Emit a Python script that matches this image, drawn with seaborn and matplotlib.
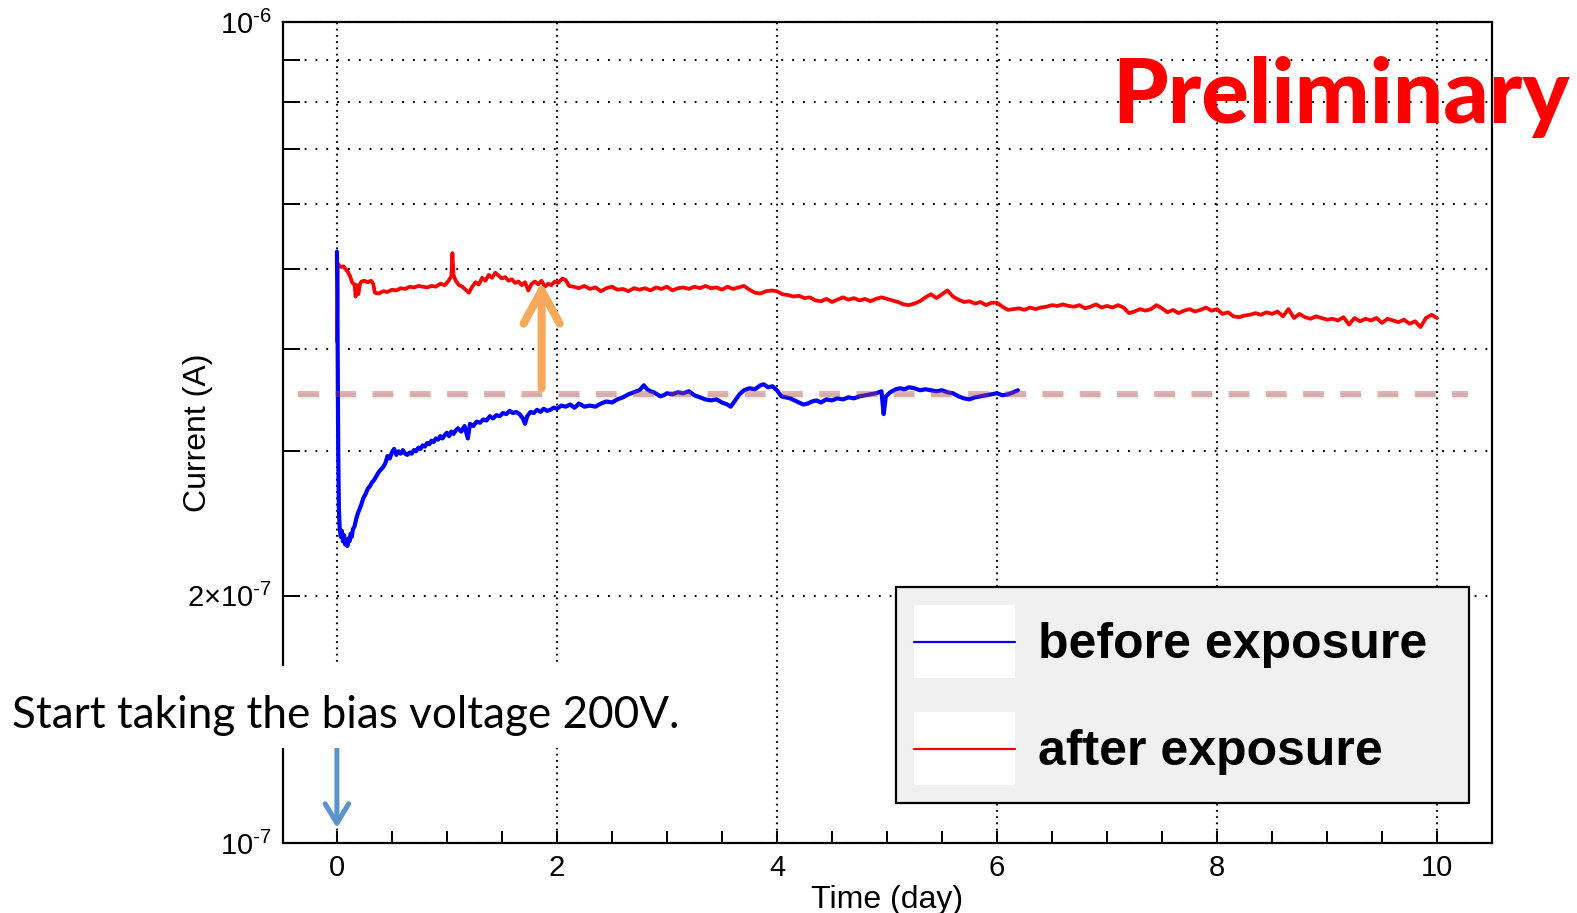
import numpy as np
import pandas as pd
import matplotlib
matplotlib.use("Agg")
import matplotlib.pyplot as plt
import seaborn as sns
from matplotlib import ticker
from matplotlib.lines import Line2D
from matplotlib.patches import Rectangle
from matplotlib.legend_handler import HandlerLine2D
import matplotlib.patheffects as pe

# ---------------- data ----------------
before_day = [0.000, 0.004, 0.008, 0.012, 0.018, 0.025, 0.035, 0.045, 0.055, 0.065,
              0.075, 0.085, 0.095, 0.105, 0.115, 0.125, 0.135, 0.145, 0.160, 0.175,
              0.190, 0.205, 0.220, 0.240, 0.260, 0.280, 0.300, 0.320, 0.340, 0.360,
              0.380, 0.400, 0.420, 0.440, 0.460, 0.480, 0.500, 0.520, 0.540, 0.560,
              0.580, 0.600, 0.620, 0.640, 0.660, 0.680, 0.700, 0.720, 0.740, 0.760,
              0.780, 0.800, 0.820, 0.840, 0.860, 0.880, 0.900, 0.920, 0.940, 0.960,
              0.980, 1.000, 1.020, 1.040, 1.060, 1.080, 1.100, 1.130, 1.160, 1.190,
              1.210, 1.240, 1.270, 1.300, 1.330, 1.360, 1.390, 1.420, 1.450, 1.480,
              1.510, 1.540, 1.570, 1.600, 1.630, 1.660, 1.690, 1.710, 1.730, 1.760,
              1.790, 1.820, 1.850, 1.880, 1.910, 1.940, 1.970, 2.000, 2.040, 2.080,
              2.120, 2.160, 2.200, 2.250, 2.300, 2.350, 2.400, 2.450, 2.500, 2.550,
              2.600, 2.650, 2.700, 2.750, 2.790, 2.820, 2.850, 2.880, 2.910, 2.940,
              2.970, 3.000, 3.050, 3.100, 3.150, 3.200, 3.250, 3.300, 3.350, 3.400,
              3.450, 3.500, 3.550, 3.580, 3.620, 3.660, 3.700, 3.750, 3.800, 3.850,
              3.880, 3.920, 3.960, 4.000, 4.040, 4.080, 4.120, 4.160, 4.200, 4.240,
              4.280, 4.320, 4.360, 4.400, 4.450, 4.500, 4.550, 4.600, 4.650, 4.700,
              4.750, 4.800, 4.850, 4.900, 4.950, 4.970, 4.990, 5.030, 5.080, 5.120,
              5.160, 5.200, 5.250, 5.300, 5.350, 5.400, 5.450, 5.500, 5.550, 5.600,
              5.650, 5.700, 5.750, 5.800, 5.850, 5.900, 5.950, 6.000, 6.050, 6.100,
              6.150, 6.190]
before_nA = [525, 470, 380, 300, 255, 242, 236, 240, 233, 237,
             231, 234, 230, 235, 233, 238, 236, 241, 243, 248,
             252, 255, 258, 263, 266, 270, 272, 275, 277, 280,
             283, 285, 287, 290, 296, 294, 299, 302, 297, 300,
             298, 301, 298, 297, 299, 298, 301, 300, 303, 302,
             305, 304, 307, 306, 309, 308, 311, 310, 313, 311,
             314, 316, 313, 317, 315, 318, 320, 317, 322, 311,
             324, 322, 326, 325, 328, 327, 331, 329, 332, 331,
             334, 333, 336, 334, 335, 333, 329, 324, 331, 335,
             334, 337, 335, 338, 336, 337, 339, 338, 341, 340,
             342, 339, 343, 340, 341, 340, 343, 345, 344, 347,
             349, 352, 354, 356, 361, 357, 355, 354, 352, 350,
             351, 353, 352, 354, 353, 355, 351, 349, 347, 346,
             347, 344, 342, 340, 346, 352, 356, 358, 357, 361,
             362, 359, 360, 356, 350, 349, 348, 346, 344, 342,
             343, 345, 346, 344, 347, 346, 348, 347, 349, 348,
             350, 351, 352, 353, 355, 333, 350, 354, 357, 358,
             357, 359, 358, 356, 357, 356, 355, 356, 354, 353,
             350, 348, 347, 349, 350, 351, 352, 353, 351, 352,
             354, 356]

after_day = [0.000, 0.008, 0.020, 0.040, 0.060, 0.080, 0.100, 0.120, 0.140, 0.160,
             0.170, 0.180, 0.195, 0.210, 0.225, 0.250, 0.280, 0.310, 0.330, 0.345,
             0.380, 0.420, 0.460, 0.500, 0.540, 0.580, 0.620, 0.660, 0.700, 0.740,
             0.780, 0.820, 0.860, 0.900, 0.940, 0.980, 1.010, 1.040, 1.050, 1.060,
             1.080, 1.110, 1.140, 1.170, 1.200, 1.230, 1.260, 1.290, 1.320, 1.350,
             1.380, 1.410, 1.440, 1.470, 1.500, 1.530, 1.560, 1.590, 1.620, 1.650,
             1.680, 1.710, 1.740, 1.770, 1.800, 1.830, 1.860, 1.890, 1.920, 1.950,
             1.980, 2.010, 2.050, 2.080, 2.110,
             2.15, 2.20, 2.25, 2.30, 2.35, 2.40, 2.45, 2.50, 2.55, 2.60,
             2.65, 2.70, 2.75, 2.80, 2.85, 2.90, 2.95, 3.00, 3.05, 3.10,
             3.15, 3.20, 3.25, 3.30, 3.35, 3.40, 3.45, 3.50, 3.55, 3.60,
             3.65, 3.70, 3.75, 3.80, 3.85, 3.90, 3.95, 4.00, 4.05, 4.10,
             4.15, 4.20, 4.25, 4.30, 4.35, 4.40, 4.45, 4.50, 4.55, 4.60,
             4.65, 4.70, 4.75, 4.80, 4.85, 4.90, 4.95, 5.00, 5.05, 5.10,
             5.15, 5.20, 5.25, 5.30, 5.35, 5.40, 5.45, 5.50, 5.55, 5.60,
             5.65, 5.70, 5.75, 5.80, 5.85, 5.90, 5.95, 6.00, 6.05, 6.10,
             6.15, 6.20, 6.25, 6.30, 6.35, 6.40, 6.45, 6.50, 6.55, 6.60,
             6.65, 6.70, 6.75, 6.80, 6.85, 6.90, 6.95, 7.00, 7.05, 7.10,
             7.15, 7.20, 7.25, 7.30, 7.35, 7.40, 7.45, 7.50, 7.55, 7.60,
             7.65, 7.70, 7.75, 7.80, 7.85, 7.90, 7.95, 8.00, 8.05, 8.10,
             8.15, 8.20, 8.25, 8.30, 8.35, 8.40, 8.45, 8.50, 8.55, 8.60,
             8.65, 8.70, 8.75, 8.80, 8.85, 8.90, 8.95, 9.00, 9.05, 9.10,
             9.15, 9.20, 9.25, 9.30, 9.35, 9.40, 9.45, 9.50, 9.55, 9.60,
             9.65, 9.70, 9.75, 9.80, 9.85, 9.90, 9.95, 10.00]
after_nA = [408, 508, 505, 503, 504, 500, 496, 490, 481, 479,
            463, 478, 466, 480, 483, 484, 482, 484, 480, 468,
            467, 470, 469, 472, 471, 474, 473, 476, 475, 477,
            476, 475, 477, 476, 480, 478, 483, 490, 523, 492,
            484, 478, 476, 472, 468, 476, 482, 479, 488, 484,
            492, 488, 495, 491, 487, 489, 484, 486, 481, 483,
            478, 482, 471, 480, 483, 479, 484, 476, 480, 478,
            483, 481, 487, 485, 477,
            476, 474, 477, 473, 475, 470, 474, 476, 472, 473,
            470, 474, 472, 474, 471, 475, 473, 476, 471, 474,
            475, 473, 476, 474, 477, 474, 475, 472, 476, 473,
            475, 477, 472, 468, 467, 470, 471, 470, 466, 465,
            463, 464, 461, 462, 458, 457, 460, 456, 459, 462,
            459, 461, 458, 460, 457, 460, 462, 460, 458, 456,
            453, 452, 454, 457, 462, 466, 461, 466, 471, 463,
            459, 456, 457, 454, 456, 452, 455, 455, 450, 446,
            447, 448, 446, 449, 447, 449, 450, 452, 451, 453,
            451, 450, 452, 448, 450, 453, 449, 451, 449, 452,
            449, 442, 444, 447, 445, 447, 452, 448, 443, 446,
            442, 445, 447, 444, 446, 449, 445, 447, 441, 443,
            438, 437, 439, 440, 442, 440, 443, 441, 444, 438,
            447, 436, 441, 437, 435, 438, 436, 434, 435, 433,
            437, 428, 436, 432, 435, 433, 436, 430, 435, 433,
            431, 434, 429, 432, 425, 436, 440, 436]

series_labels = ["before exposure", "after exposure"]
ref_level_A = 3.52e-7          # pink dashed reference level
ref_span_day = [-0.35, 10.28]

x_major_ticks = [0, 2, 4, 6, 8, 10]
x_tick_labels = ["0", "2", "4", "6", "8", "10"]
y_label_ticks = [1e-7, 2e-7, 1e-6]
y_tick_labels = [r"$\mathregular{10^{\text{-}7}}$",
                 r"$\mathregular{2{\times}10^{\text{-}7}}$",
                 r"$\mathregular{10^{\text{-}6}}$"]
y_minor_ticks = [3e-7, 4e-7, 5e-7, 6e-7, 7e-7, 8e-7, 9e-7]

# ---------------- style ----------------
sns.set_theme(style="white")
plt.rcParams["font.family"] = ["Liberation Sans", "DejaVu Sans"]
plt.rcParams["mathtext.fontset"] = "custom"
plt.rcParams["mathtext.rm"] = "Liberation Sans"
plt.rcParams["mathtext.it"] = "Liberation Sans:italic"
plt.rcParams["mathtext.bf"] = "Liberation Sans:bold"
plt.rcParams["lines.scale_dashes"] = False
for k in ["text.color", "axes.labelcolor", "xtick.color", "ytick.color", "axes.edgecolor"]:
    plt.rcParams[k] = "black"

W, H = 1577, 913
fig = plt.figure(figsize=(W / 100, H / 100), dpi=100)
fig.patch.set_facecolor("white")
ax = fig.add_axes([283 / W, 1 - 843 / H, (1492 - 283) / W, (843 - 22) / H])
ax.set_facecolor("white")

df_before = pd.DataFrame({"day": before_day, "current": np.array(before_nA) * 1e-9})
df_after = pd.DataFrame({"day": after_day, "current": np.array(after_nA) * 1e-9})

sns.lineplot(data=df_after, x="day", y="current", ax=ax, color="#ff0000",
             lw=2.7, estimator=None, sort=False, zorder=3)
sns.lineplot(data=df_before, x="day", y="current", ax=ax, color="#0000ff",
             lw=3.0, estimator=None, sort=False, zorder=3)

# pink dashed reference level (semi-transparent, on top)
ax.plot(ref_span_day, [ref_level_A, ref_level_A], color=(0.71, 0.27, 0.27), alpha=0.4,
        lw=4.4, linestyle=(0, (15.0, 11.8)), zorder=4, solid_capstyle="butt",
        path_effects=[pe.SimpleLineShadow(offset=(0.5, -1.5), alpha=0.06), pe.Normal()])

ax.set_yscale("log")
ax.set_xlim(-0.49, 10.5)
ax.set_ylim(1e-7, 1e-6)

ax.xaxis.set_major_locator(ticker.FixedLocator(x_major_ticks))
ax.xaxis.set_major_formatter(ticker.FixedFormatter(x_tick_labels))
ax.xaxis.set_minor_locator(ticker.MultipleLocator(0.5))
ax.yaxis.set_major_locator(ticker.FixedLocator(y_label_ticks))
ax.yaxis.set_major_formatter(ticker.FixedFormatter(y_tick_labels))
ax.yaxis.set_minor_locator(ticker.FixedLocator(y_minor_ticks))
ax.yaxis.set_minor_formatter(ticker.NullFormatter())

ax.tick_params(axis="x", which="both", direction="in", length=8.6, width=1.4,
               labelsize=21, pad=8, top=False, bottom=True, colors="black")
ax.tick_params(axis="y", which="both", direction="in", length=12, width=1.4,
               labelsize=21, pad=8, right=False, left=True, colors="black")

ax.set_axisbelow(True)
ax.grid(False)
ax.grid(True, axis="x", which="major", color="black", lw=1.5, linestyle=(0, (1.3, 3.2)))
ax.grid(True, axis="y", which="both", color="black", lw=1.5, linestyle=(0, (1.3, 6.5)))

for s in ax.spines.values():
    s.set_linewidth(1.6)
    s.set_color("black")
    s.set_visible(True)

ax.set_xlabel("Time (day)", fontsize=23, color="black")
ax.set_ylabel("Current (A)", fontsize=23, color="black")
ax.xaxis.set_label_coords(0.5, -0.051)
ax.yaxis.set_label_coords(-0.058, 0.5)

# arrows
ax.annotate("", xy=(1.861, 4.825e-7), xytext=(1.861, 3.58e-7),
            arrowprops=dict(arrowstyle="->,head_length=24,head_width=13", lw=5.8,
                            color="#f6a95b", mutation_scale=1, shrinkA=0, shrinkB=0),
            zorder=5)
ax.annotate("", xy=(0, 1.043e-7), xytext=(0, 1.309e-7), annotation_clip=False,
            arrowprops=dict(arrowstyle="->,head_length=14,head_width=8.5", lw=3.6,
                            color="#5b93cb", mutation_scale=1, shrinkA=0, shrinkB=0),
            zorder=5)


# legend with white handle boxes, line centred in each box
class WhiteBoxHandler(HandlerLine2D):
    def create_artists(self, legend, orig_handle, xdescent, ydescent, width, height,
                       fontsize, trans):
        box = Rectangle((-xdescent, -ydescent), width, height, facecolor="white",
                        edgecolor="none", transform=trans)
        arts = list(super().create_artists(legend, orig_handle, xdescent, ydescent,
                                           width, height, fontsize, trans))
        for a in arts:
            if isinstance(a, Line2D):
                a.set_ydata([height / 2 - ydescent] * len(a.get_xdata()))
        return [box] + arts


handles = [Line2D([], [], color="#0000ff", lw=1.6), Line2D([], [], color="#ff0000", lw=1.6)]
leg = ax.legend(handles, series_labels, handler_map={Line2D: WhiteBoxHandler()},
                loc="upper left", mode="expand",
                bbox_to_anchor=(896 / W, 1 - 802 / H, 573 / W, 215 / H),
                bbox_transform=fig.transFigure, borderaxespad=0,
                prop=dict(family="Liberation Sans", weight="bold", size=36),
                handlelength=2.02, handleheight=1.87, handletextpad=0.46,
                borderpad=0.36, labelspacing=0.68, frameon=True, fancybox=False,
                framealpha=1, facecolor="#f0f0f0", edgecolor="black", shadow=False,
                labelcolor="black")
leg.get_frame().set_linewidth(1.6)
leg.set_zorder(6)

# white box behind the annotation text (hides spine/grid there)
fig.add_artist(Rectangle((0, 1 - 748 / H), 695 / W, 82 / H, transform=fig.transFigure,
                         facecolor="white", edgecolor="none", zorder=5))
fig.text(12 / W, 1 - 715 / H, "Start taking the bias voltage 200V.", fontfamily="Lato",
         fontsize=31.7, color="black", ha="left", va="center", zorder=6)
fig.text(1112 / W, 1 - 123 / H, "Preliminary", fontfamily="Lato", fontweight=900,
         fontsize=64, color="#ff0000", ha="left", va="baseline", zorder=6)

fig.savefig("out.png", dpi=100, facecolor="white")
